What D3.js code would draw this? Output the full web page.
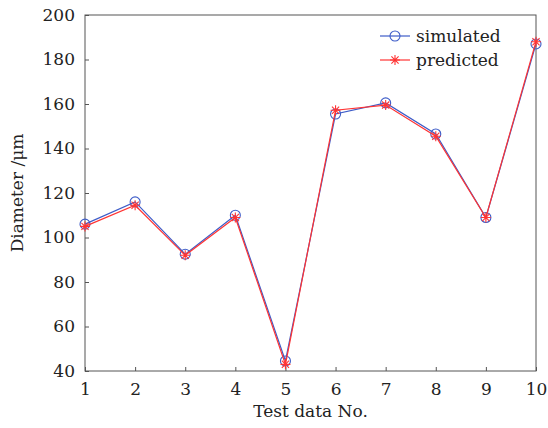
<!DOCTYPE html>
<html>
<head>
<meta charset="utf-8">
<script src="https://cdn.jsdelivr.net/npm/d3@7"></script>
<style>
  body { margin: 0; background: #fff; }
  text { font-family: "DejaVu Serif", serif; fill: #222; }
</style>
</head>
<body>
<div id="main"></div>
<script>
var testNo = [1, 2, 3, 4, 5, 6, 7, 8, 9, 10];
var simulated = [106, 116, 92.5, 110, 44.5, 155.5, 160.5, 146.5, 109, 187];
var predicted = [105, 114.5, 92, 109, 43, 157.2, 159.5, 145.5, 109, 188];
var yTicks = [40, 60, 80, 100, 120, 140, 160, 180, 200];
var seriesNames = ["simulated", "predicted"];

var ctx = {
    w: 548,
    h: 428,
    left: 85,
    right: 536,
    top: 15,
    bottom: 371,
    blue: "#3d5cc8",
    red: "#ff3333",
};

var svg = d3.select("#main").append("svg")
    .attr("width", ctx.w)
    .attr("height", ctx.h);

var x = d3.scaleLinear().domain([1, 10]).range([ctx.left, ctx.right]);
var y = d3.scaleLinear().domain([40, 200]).range([ctx.bottom, ctx.top]);

// axes, ticks pointing inward
var xAxis = d3.axisBottom(x).tickValues(testNo).tickSizeInner(-4).tickSizeOuter(0).tickPadding(12);
var yAxis = d3.axisLeft(y).tickValues(yTicks).tickSizeInner(-4).tickSizeOuter(0).tickPadding(10);

var gx = svg.append("g").attr("transform", "translate(0," + ctx.bottom + ")").call(xAxis);
var gy = svg.append("g").attr("transform", "translate(" + ctx.left + ",0)").call(yAxis);
[gx, gy].forEach(function (g) {
    g.selectAll("path, line").attr("stroke", "#555");
    g.selectAll("text").style("font-size", "17px").attr("fill", "#222");
    g.select(".domain").remove();
});

// box
svg.append("rect")
    .attr("x", ctx.left).attr("y", ctx.top)
    .attr("width", ctx.right - ctx.left).attr("height", ctx.bottom - ctx.top)
    .attr("fill", "none").attr("stroke", "#555").attr("stroke-width", 1);

// axis titles
svg.append("text")
    .attr("x", (ctx.left + ctx.right) / 2).attr("y", 417)
    .attr("text-anchor", "middle").style("font-size", "17px")
    .text("Test data No.");
svg.append("text")
    .attr("transform", "translate(23," + (ctx.top + ctx.bottom) / 2 + ") rotate(-90)")
    .attr("text-anchor", "middle").style("font-size", "17px")
    .text("Diameter /\u03bcm");

var line = d3.line()
    .x(function (d) { return x(d[0]); })
    .y(function (d) { return y(d[1]); });

var simPts = d3.zip(testNo, simulated);
var predPts = d3.zip(testNo, predicted);

var starPath = function (r) {
    var d = r * 0.72;
    return "M" + (-r) + ",0L" + r + ",0M0," + (-r) + "L0," + r +
        "M" + (-d) + "," + (-d) + "L" + d + "," + d +
        "M" + (-d) + "," + d + "L" + d + "," + (-d);
};

svg.append("path").datum(simPts)
    .attr("d", line).attr("fill", "none")
    .attr("stroke", ctx.blue).attr("stroke-width", 1.2);
svg.append("g").selectAll("circle").data(simPts).enter()
    .append("circle")
    .attr("cx", function (d) { return x(d[0]); })
    .attr("cy", function (d) { return y(d[1]); })
    .attr("r", 5)
    .attr("fill", "none").attr("stroke", ctx.blue).attr("stroke-width", 1.1);

svg.append("path").datum(predPts)
    .attr("d", line).attr("fill", "none")
    .attr("stroke", ctx.red).attr("stroke-width", 1.2);
svg.append("g").selectAll("path").data(predPts).enter()
    .append("path")
    .attr("transform", function (d) { return "translate(" + x(d[0]) + "," + y(d[1]) + ")"; })
    .attr("d", starPath(5))
    .attr("fill", "none").attr("stroke", ctx.red).attr("stroke-width", 1.1);

// legend
var legend = svg.append("g").attr("transform", "translate(380,36)");
seriesNames.forEach(function (name, i) {
    var g = legend.append("g").attr("transform", "translate(0," + i * 24 + ")");
    var col = i === 0 ? ctx.blue : ctx.red;
    g.append("line").attr("x1", 0).attr("x2", 30).attr("y1", 0).attr("y2", 0)
        .attr("stroke", col).attr("stroke-width", 1.2);
    if (i === 0) {
        g.append("circle").attr("cx", 15).attr("cy", 0).attr("r", 5)
            .attr("fill", "none").attr("stroke", col).attr("stroke-width", 1.1);
    } else {
        g.append("path").attr("transform", "translate(15,0)").attr("d", starPath(5))
            .attr("fill", "none").attr("stroke", col).attr("stroke-width", 1.1);
    }
    g.append("text").attr("x", 36).attr("y", 6).style("font-size", "17px").text(name);
});
</script>
</body>
</html>
